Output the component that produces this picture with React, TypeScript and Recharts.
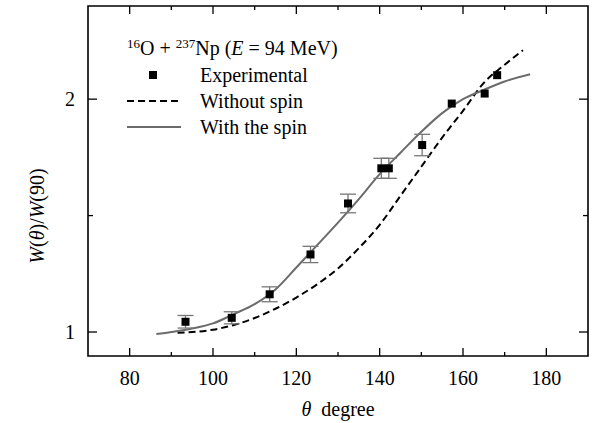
import { ComposedChart, Line, Scatter, ErrorBar, XAxis, YAxis, ReferenceArea } from "recharts";

const FONT = "'Liberation Serif', 'DejaVu Serif', serif";

const W = 595;
const H = 423;
const PLOT_TOP = 6;
const PLOT_RIGHT = 588;
const X_MIN = 70;
const X_MAX = 190;
const Y_MIN = 0.897;
const Y_MAX = 2.4;

// experimental points (theta, W(theta)/W(90), error)
const expTheta = [93.4, 104.5, 113.6, 123.4, 132.4, 140.4, 142.2, 150.2, 157.3, 165.2, 168.2];
const expW = [1.044, 1.061, 1.162, 1.333, 1.552, 1.703, 1.703, 1.803, 1.981, 2.024, 2.103];
const expErr = [0.027, 0.026, 0.032, 0.035, 0.04, 0.043, 0.043, 0.046, 0, 0, 0];

// with the spin (solid gray)
const spinTheta = [86.4, 90, 95, 100, 105, 110, 115, 120, 125, 130, 135, 140, 145, 150, 155, 160, 165, 170, 176.1];
const spinW = [0.991, 1.0, 1.015, 1.037, 1.077, 1.12, 1.183, 1.277, 1.373, 1.47, 1.571, 1.678, 1.77, 1.86, 1.94, 2.0, 2.04, 2.076, 2.107];

// without spin (dashed black)
const noSpinTheta = [91.5, 95, 100, 105, 110, 115, 120, 125, 130, 135, 140, 145, 150, 155, 160, 165, 170, 174.4];
const noSpinW = [0.997, 1.0, 1.01, 1.03, 1.06, 1.1, 1.148, 1.205, 1.273, 1.36, 1.46, 1.585, 1.71, 1.835, 1.95, 2.07, 2.148, 2.21];

const xTicks = [80, 90, 100, 110, 120, 130, 140, 150, 160, 170, 180];
const xLabels = [80, 100, 120, 140, 160, 180];
const yTicks = [1, 1.5, 2];
const yLabels = [1, 2];

const expData = expTheta.map((x, i) => ({ x, y: expW[i], err: expErr[i] }));
const spinData = spinTheta.map((x, i) => ({ x, y: spinW[i] }));
const noSpinData = noSpinTheta.map((x, i) => ({ x, y: noSpinW[i] }));

function XTick(props: any) {
  const { x, y, payload } = props;
  const major = xLabels.includes(payload.value);
  const len = major ? 8 : 4;
  return (
    <g>
      <line x1={x} x2={x} y1={y} y2={y - len} stroke="#000" strokeWidth={1.3} />
      <line x1={x} x2={x} y1={PLOT_TOP} y2={PLOT_TOP + len} stroke="#000" strokeWidth={1.3} />
      {major && (
        <text x={x} y={y + 29} textAnchor="middle" style={{ fontFamily: FONT }} fontSize={20} fill="#000">
          {payload.value}
        </text>
      )}
    </g>
  );
}

function YTick(props: any) {
  const { x, y, payload } = props;
  const major = yLabels.includes(payload.value);
  const len = major ? 9 : 5;
  return (
    <g>
      <line x1={x} x2={x + len} y1={y} y2={y} stroke="#000" strokeWidth={1.3} />
      <line x1={PLOT_RIGHT - len} x2={PLOT_RIGHT} y1={y} y2={y} stroke="#000" strokeWidth={1.3} />
      {major && (
        <text x={x - 13} y={y + 7} textAnchor="end" style={{ fontFamily: FONT }} fontSize={20} fill="#000">
          {payload.value}
        </text>
      )}
    </g>
  );
}

const square = (p: any) => <rect x={p.cx - 4} y={p.cy - 4} width={8} height={8} fill="#000" />;

const legendRows = [
  { label: "Experimental", kind: "square", y: 75 },
  { label: "Without spin", kind: "dashed", y: 101 },
  { label: "With the spin", kind: "solid", y: 127 },
];

function LegendSymbol({ kind }: { kind: string }) {
  return (
    <svg width={56} height={10} style={{ display: "block" }}>
      {kind === "square" && <rect x={22} y={1} width={8} height={8} fill="#000" />}
      {kind === "dashed" && <line x1={0} x2={54} y1={5} y2={5} stroke="#000" strokeWidth={2} strokeDasharray="7 4" />}
      {kind === "solid" && <line x1={0} x2={54} y1={5} y2={5} stroke="#6b6b6b" strokeWidth={2} />}
    </svg>
  );
}

export default function App() {
  return (
    <div style={{ position: "absolute", left: 0, top: 0, width: W, height: H, background: "#fff", fontFamily: FONT }}>
      <ComposedChart width={W} height={H} margin={{ top: PLOT_TOP, right: W - PLOT_RIGHT, left: 0, bottom: 0 }}>
        <XAxis
          dataKey="x"
          type="number"
          domain={[X_MIN, X_MAX]}
          ticks={xTicks}
          height={H - 356}
          axisLine={false}
          tickLine={false}
          tickSize={0}
          tickMargin={0}
          tick={(p: any) => <XTick {...p} />}
          interval={0}
          allowDataOverflow
        />
        <YAxis
          type="number"
          domain={[Y_MIN, Y_MAX]}
          ticks={yTicks}
          width={88}
          axisLine={false}
          tickLine={false}
          tickSize={0}
          tickMargin={0}
          tick={(p: any) => <YTick {...p} />}
          interval={0}
          allowDataOverflow
        />
        <ReferenceArea x1={X_MIN} x2={X_MAX} y1={Y_MIN} y2={Y_MAX} fill="none" fillOpacity={0} stroke="#000" strokeWidth={1.6} />
        <Line
          data={noSpinData}
          dataKey="y"
          type="monotone"
          stroke="#000"
          strokeWidth={2}
          strokeDasharray="7 4"
          dot={false}
          isAnimationActive={false}
        />
        <Line
          data={spinData}
          dataKey="y"
          type="monotone"
          stroke="#6b6b6b"
          strokeWidth={2}
          dot={false}
          isAnimationActive={false}
        />
        <Scatter data={expData} dataKey="y" shape={square} isAnimationActive={false}>
          <ErrorBar dataKey="err" direction="y" width={8} stroke="#777" strokeWidth={1.3} isAnimationActive={false} />
        </Scatter>
      </ComposedChart>

      {/* legend */}
      <div style={{ position: "absolute", left: 127, top: 36, fontSize: 20, lineHeight: "24px", whiteSpace: "nowrap", color: "#000" }}>
        <sup style={{ fontSize: 13, verticalAlign: "0.55em", lineHeight: 0 }}>16</sup>O +{" "}
        <sup style={{ fontSize: 13, verticalAlign: "0.55em", lineHeight: 0 }}>237</sup>Np&nbsp;(<i>E</i> = 94 MeV)
      </div>
      {legendRows.map((r) => (
        <div key={r.label}>
          <div style={{ position: "absolute", left: 127, top: r.y - 5 }}>
            <LegendSymbol kind={r.kind} />
          </div>
          <div style={{ position: "absolute", left: 200, top: r.y - 12, fontSize: 20, lineHeight: "24px", whiteSpace: "nowrap" }}>
            {r.label}
          </div>
        </div>
      ))}

      {/* axis titles */}
      <div
        style={{
          position: "absolute",
          left: 37,
          top: 216,
          transform: "translate(-50%, -50%) rotate(-90deg)",
          fontSize: 20,
          whiteSpace: "nowrap",
        }}
      >
        <i>W</i>(<i>θ</i>)/<i>W</i>(90)
      </div>
      <div
        style={{
          position: "absolute",
          left: 338,
          top: 409,
          transform: "translate(-50%, -50%)",
          fontSize: 20,
          whiteSpace: "nowrap",
        }}
      >
        <i>θ</i>&nbsp;&nbsp;degree
      </div>
    </div>
  );
}
